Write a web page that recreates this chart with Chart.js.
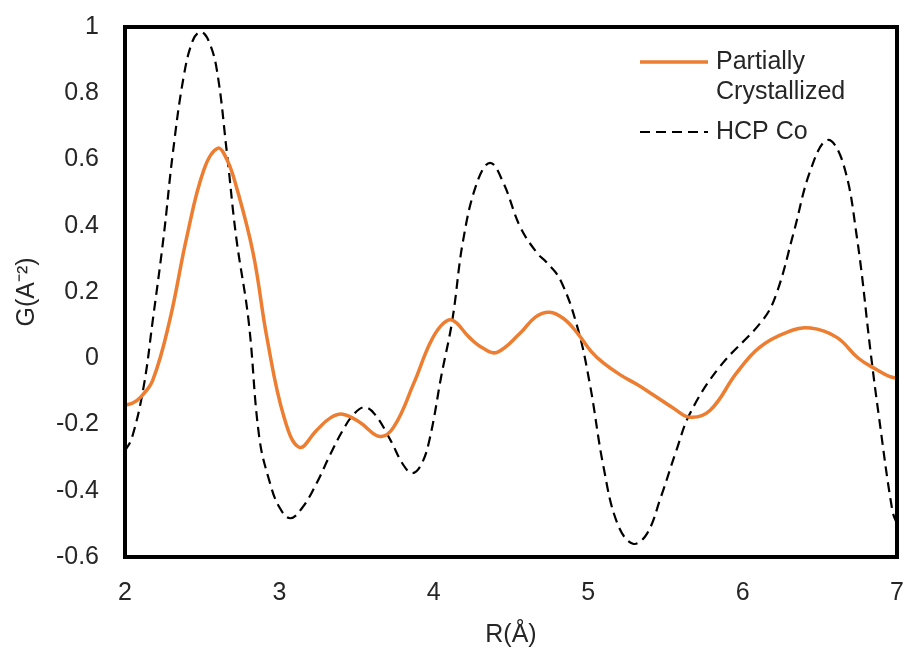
<!DOCTYPE html>
<html lang="en">
<head>
  <meta charset="UTF-8" />
  <title>G(r) Partially Crystallized vs HCP Co</title>
  <script src="https://cdn.jsdelivr.net/npm/chart.js"></script>
  <style>
    body {
      margin: 0;
      background: #fff;
    }
    canvas {
      display: block;
    }
  </style>
</head>
<body>
  <canvas id="grChart" width="906" height="650"></canvas>

  <script>
    // values
    const partialR = [2.00, 2.05, 2.10, 2.18, 2.29, 2.40, 2.51, 2.60, 2.66, 2.72, 2.83, 2.92, 3.03, 3.13, 3.24, 3.33,
      3.41, 3.52, 3.65, 3.74, 3.87, 3.975, 4.05, 4.12, 4.23, 4.32, 4.41, 4.56, 4.66, 4.75, 4.84, 4.93,
      5.02, 5.10, 5.21, 5.32, 5.42, 5.55, 5.66, 5.79, 5.96, 6.11, 6.29, 6.44, 6.61, 6.75, 6.87, 6.95, 7.00];
    const partialG = [-0.142, -0.135, -0.118, -0.066, 0.115, 0.366, 0.568, 0.634, 0.60, 0.52, 0.317, 0.06, -0.178, -0.269, -0.218, -0.18,
      -0.169, -0.193, -0.236, -0.208, -0.076, 0.045, 0.10, 0.115, 0.063, 0.03, 0.018, 0.076, 0.125, 0.139, 0.12, 0.076,
      0.02, -0.015, -0.051, -0.08, -0.11, -0.15, -0.178, -0.157, -0.045, 0.033, 0.079, 0.091, 0.063, 0.0, -0.035, -0.055, -0.06];

    const hcpR = [2.00, 2.045, 2.12, 2.18, 2.25, 2.31, 2.38, 2.44, 2.49, 2.54, 2.595, 2.66, 2.72, 2.80, 2.87, 2.94,
      3.00, 3.07, 3.15, 3.24, 3.33, 3.41, 3.48, 3.55, 3.62, 3.72, 3.80, 3.86, 3.92, 3.975, 4.05, 4.12,
      4.19, 4.28, 4.365, 4.45, 4.56, 4.67, 4.73, 4.82, 4.93, 5.01, 5.10, 5.19, 5.29, 5.38, 5.47, 5.57,
      5.66, 5.85, 6.13, 6.22, 6.33, 6.44, 6.55, 6.65, 6.74, 6.83, 6.88, 6.97, 7.00];
    const hcpG = [-0.28, -0.24, -0.088, 0.115, 0.366, 0.62, 0.85, 0.96, 0.985, 0.96, 0.87, 0.62, 0.366, 0.115, -0.24, -0.378,
      -0.45, -0.483, -0.45, -0.378, -0.29, -0.218, -0.17, -0.148, -0.17, -0.248, -0.32, -0.347, -0.32, -0.24, -0.05, 0.115,
      0.356, 0.53, 0.59, 0.53, 0.396, 0.317, 0.29, 0.236, 0.094, -0.076, -0.33, -0.50, -0.56, -0.53, -0.42, -0.28,
      -0.166, -0.027, 0.115, 0.196, 0.378, 0.568, 0.659, 0.59, 0.366, 0.015, -0.166, -0.46, -0.50];

    const seriesNames = ['Partially Crystallized', 'HCP Co'];
    const rTicks = [2, 3, 4, 5, 6, 7];
    const gTicks = [-0.6, -0.4, -0.2, 0, 0.2, 0.4, 0.6, 0.8, 1];

    const toPoints = (xs, ys) => xs.map((x, i) => ({ x: x, y: ys[i] }));

    const textColor = '#262626';
    const fontFamily = '"Liberation Sans", Arial, sans-serif';
    const fontSize = 25;

    // black box round the plot area + legend inside the top right corner
    const frameAndLegend = {
      id: 'frameAndLegend',
      afterDraw(chart) {
        const ctx = chart.ctx;
        const a = chart.chartArea;
        ctx.save();
        ctx.strokeStyle = '#000';
        ctx.lineWidth = 4;
        ctx.strokeRect(a.left, a.top, a.right - a.left, a.bottom - a.top);

        ctx.font = fontSize + 'px ' + fontFamily;
        ctx.fillStyle = textColor;
        ctx.textBaseline = 'middle';
        const rows = [
          { ds: chart.data.datasets[0], y: 62, lines: ['Partially', 'Crystallized'] },
          { ds: chart.data.datasets[1], y: 132, lines: [chart.data.datasets[1].label] }
        ];
        rows.forEach(row => {
          ctx.strokeStyle = row.ds.borderColor;
          ctx.lineWidth = row.ds.borderWidth;
          ctx.setLineDash(row.ds.borderDash || []);
          ctx.beginPath();
          ctx.moveTo(640, row.y);
          ctx.lineTo(708, row.y);
          ctx.stroke();
          row.lines.forEach((t, i) => ctx.fillText(t, 716, row.y + i * 30));
        });
        ctx.restore();
      }
    };

    const ctx = document.getElementById('grChart').getContext('2d');
    const chart = new Chart(ctx, {
      type: 'line',
      data: {
        datasets: [
          {
            label: seriesNames[0],
            data: toPoints(partialR, partialG),
            borderColor: '#ED7D31',
            borderWidth: 3.5,
            pointRadius: 0,
            tension: 0.4,
            fill: false
          },
          {
            label: seriesNames[1],
            data: toPoints(hcpR, hcpG),
            borderColor: '#000000',
            borderWidth: 2.2,
            borderDash: [10, 6],
            pointRadius: 0,
            tension: 0.4,
            fill: false
          }
        ]
      },
      options: {
        responsive: false,
        animation: false,
        layout: { padding: { top: 27, right: 9, left: 0, bottom: 0 } },
        plugins: {
          legend: { display: false },
          tooltip: { enabled: false }
        },
        scales: {
          x: {
            type: 'linear',
            min: rTicks[0],
            max: rTicks[rTicks.length - 1],
            afterBuildTicks: s => { s.ticks = rTicks.map(v => ({ value: v })); },
            afterFit: s => { s.height = 93; s.paddingLeft = 0; s.paddingRight = 0; },
            grid: { display: false, drawTicks: false },
            border: { display: false },
            ticks: {
              color: textColor,
              font: { family: fontFamily, size: fontSize },
              padding: 21,
              maxRotation: 0
            },
            title: {
              display: true,
              text: 'R(Å)',
              color: textColor,
              font: { family: fontFamily, size: fontSize },
              padding: { top: 0, bottom: 0 }
            }
          },
          y: {
            min: gTicks[0],
            max: gTicks[gTicks.length - 1],
            afterBuildTicks: s => { s.ticks = gTicks.map(v => ({ value: v })); },
            afterFit: s => { s.width = 125; s.paddingTop = 0; s.paddingBottom = 0; },
            grid: { display: false, drawTicks: false },
            border: { display: false },
            ticks: {
              color: textColor,
              font: { family: fontFamily, size: fontSize },
              padding: 26,
              callback: v => String(Math.round(v * 10) / 10)
            },
            title: {
              display: true,
              text: 'G(A⁻²)',
              color: textColor,
              font: { family: fontFamily, size: fontSize },
              padding: { top: 12, bottom: 0 }
            }
          }
        }
      },
      plugins: [frameAndLegend]
    });
  </script>
</body>
</html>
